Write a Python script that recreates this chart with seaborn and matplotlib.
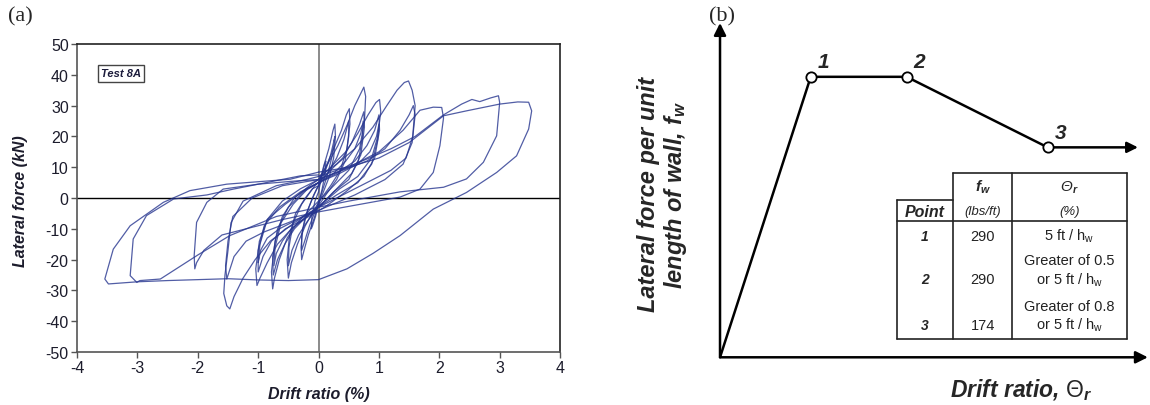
import numpy as np
import pandas as pd
import matplotlib.pyplot as plt
import seaborn as sb

# (a) hysteresis loops of Test 8A, one drift/force pair per cycle
c01_drift = [0.0, 0.05, 0.1, 0.12, 0.11, 0.06, 0.0, -0.05, -0.1, -0.12, -0.11, -0.06, 0.0]
c01_force = [2, 7, 11, 12, 8, 3, -2, -6, -9, -10, -6, -1, 2]
c02_drift = [0.0, 0.08, 0.17, 0.24, 0.27, 0.28, 0.25, 0.18, 0.08, 0.0, -0.08, -0.17, -0.24, -0.28, -0.29, -0.26, -0.18, -0.08, 0.0]
c02_force = [4, 10, 16, 22, 24, 20, 13, 7, 2, -2, -7, -12, -17, -20, -16, -10, -4, 1, 4]
c03_drift = [0.0, 0.1, 0.2, 0.26, 0.27, 0.23, 0.14, 0.04, -0.05, -0.15, -0.23, -0.28, -0.28, -0.22, -0.12, -0.03, 0.0]
c03_force = [4, 8, 14, 19, 20, 14, 7, 1, -4, -9, -14, -17, -12, -6, -1, 3, 4]
c04_drift = [0.0, 0.12, 0.25, 0.38, 0.46, 0.51, 0.52, 0.47, 0.36, 0.2, 0.05, -0.08, -0.22, -0.35, -0.45, -0.5, -0.52, -0.48, -0.38, -0.22, -0.06, 0.0]
c04_force = [5, 10, 16, 22, 27, 29, 24, 16, 9, 4, 0, -4, -9, -15, -21, -26, -20, -12, -5, 0, 4, 5]
c05_drift = [0.0, 0.15, 0.3, 0.42, 0.5, 0.5, 0.44, 0.3, 0.12, -0.05, -0.2, -0.33, -0.44, -0.5, -0.49, -0.42, -0.28, -0.1, 0.0]
c05_force = [4, 8, 13, 19, 25, 20, 12, 6, 1, -4, -8, -12, -17, -22, -16, -8, -2, 3, 4]
c06_drift = [0.0, 0.15, 0.32, 0.48, 0.6, 0.7, 0.75, 0.78, 0.76, 0.68, 0.5, 0.25, 0.05, -0.15, -0.35, -0.52, -0.65, -0.73, -0.76, -0.78, -0.72, -0.6, -0.4, -0.15, 0.0]
c06_force = [6, 11, 17, 24, 30, 34, 36, 33, 25, 16, 9, 4, 0, -4, -8, -13, -20, -26, -29.5, -24, -14, -6, 0, 4, 6]
c07_drift = [0.0, 0.2, 0.4, 0.55, 0.68, 0.75, 0.76, 0.7, 0.55, 0.3, 0.05, -0.2, -0.4, -0.56, -0.68, -0.75, -0.76, -0.68, -0.5, -0.25, 0.0]
c07_force = [5, 9, 13, 18, 24, 28, 23, 14, 8, 3, -2, -6, -10, -15, -20, -25, -19, -10, -3, 2, 5]
c08_drift = [0.0, 0.2, 0.45, 0.65, 0.82, 0.95, 1.01, 1.03, 0.98, 0.88, 0.65, 0.35, 0.05, -0.2, -0.45, -0.68, -0.85, -0.97, -1.02, -1.04, -0.98, -0.85, -0.6, -0.3, 0.0]
c08_force = [6, 10, 15, 21, 27, 31, 32, 28, 20, 13, 7, 3, -2, -6, -10, -15, -21, -26, -28.4, -23, -14, -7, -1, 3, 6]
c09_drift = [0.0, 0.3, 0.6, 0.8, 0.93, 1.0, 1.01, 0.93, 0.75, 0.45, 0.1, -0.25, -0.55, -0.78, -0.92, -1.0, -1.0, -0.9, -0.65, -0.3, 0.0]
c09_force = [5, 8, 12, 17, 22, 27, 22, 13, 7, 2, -3, -7, -10, -14, -19, -24, -17, -9, -3, 2, 5]
c10_drift = [0.0, 0.3, 0.6, 0.9, 1.13, 1.3, 1.42, 1.49, 1.55, 1.6, 1.56, 1.45, 1.2, 0.8, 0.4, 0.0, -0.4, -0.8, -1.05, -1.25, -1.4, -1.47, -1.52, -1.57, -1.55, -1.5, -1.45, -1.25, -0.7, -0.2, 0.0]
c10_force = [7, 11, 16, 23, 30, 35, 37.5, 38, 35, 30, 20, 13, 9, 5, 1, -3, -8, -14, -20, -26, -32, -36, -35, -31, -25, -17, -8, -1, 4, 6, 7]
c11_drift = [0.0, 0.4, 0.8, 1.1, 1.35, 1.5, 1.57, 1.6, 1.55, 1.4, 1.1, 0.6, 0.0, -0.5, -0.9, -1.2, -1.4, -1.52, -1.54, -1.5, -1.42, -1.1, -0.6, 0.0]
c11_force = [6, 9, 12, 16, 22, 27, 30, 27, 18, 11, 6, 1, -4, -8, -11, -14, -19, -26.3, -22, -14, -6, 0, 4, 6]
c12_drift = [0.0, 0.5, 1.0, 1.4, 1.68, 1.9, 2.04, 2.07, 2.01, 1.9, 1.68, 1.35, 0.7, 0.0, -0.6, -1.2, -1.6, -1.9, -2.02, -2.05, -2.06, -2.02, -1.85, -1.58, -1.0, -0.4, 0.0]
c12_force = [6, 10, 15, 22, 28.5, 29.5, 29.4, 26, 17, 8.3, 2.9, 0.3, -2, -4.5, -7, -10, -12, -17, -21, -23, -18.7, -7.9, -1.4, 2.9, 4.5, 5.5, 6]
c13_drift = [0.0, 0.6, 1.2, 1.6, 2.07, 2.37, 2.54, 2.67, 2.85, 2.98, 3.0, 2.95, 2.73, 2.45, 2.07, 1.35, 0.5, 0.0, -0.7, -1.47, -2.0, -2.62, -2.96, -3.01, -3.12, -3.07, -2.85, -2.4, -1.85, -1.41, -0.3, 0.0]
c13_force = [7, 11, 16, 20, 27, 30.5, 32, 31.3, 32.5, 33.2, 31, 20.2, 11.6, 6.2, 3.5, 2, -1, -3, -6, -12.2, -18.5, -26.3, -26.8, -27.4, -25.2, -13.3, -5.7, -0.3, 1.0, 2.9, 7.2, 7.5]
c14_drift = [0.0, 0.5, 1.0, 1.5, 2.07, 2.45, 3.0, 3.3, 3.48, 3.53, 3.48, 3.28, 2.95, 2.45, 1.9, 1.35, 0.9, 0.47, 0.0, -0.5, -1.0, -1.5, -2.0, -2.5, -3.0, -3.48, -3.54, -3.4, -3.12, -2.57, -2.13, -1.52, -0.47, 0.0]
c14_force = [8.4, 10, 13, 18, 26.7, 28.3, 30.5, 31.2, 31.1, 28.3, 22.4, 13.7, 8.3, 1.8, -3.6, -12.2, -18, -23, -26.5, -26.8, -26.6, -26.2, -26.5, -26.8, -27.2, -27.9, -26.3, -16.6, -9, -1.4, 2.4, 4.5, 6.1, 8.4]
c15_drift = [0.0, 0.25, 0.45, 0.6, 0.7, 0.74, 0.73, 0.66, 0.5, 0.25, 0.0, -0.25, -0.45, -0.6, -0.7, -0.74, -0.72, -0.62, -0.42, -0.18, 0.0]
c15_force = [5, 8, 12, 16, 21, 25, 20, 12, 6, 2, -3, -7, -10, -14, -18, -22, -16, -8, -2, 3, 5]
c16_drift = [0.0, 0.35, 0.65, 0.85, 0.96, 1.0, 0.98, 0.88, 0.65, 0.3, 0.0, -0.35, -0.65, -0.85, -0.96, -1.0, -0.97, -0.85, -0.55, -0.2, 0.0]
c16_force = [5, 8, 11, 15, 20, 24, 19, 11, 5, 1, -3, -7, -10, -13, -17, -21, -15, -7, -2, 3, 5]

loops = [(c01_drift, c01_force), (c02_drift, c02_force), (c03_drift, c03_force),
         (c04_drift, c04_force), (c05_drift, c05_force), (c06_drift, c06_force),
         (c07_drift, c07_force), (c15_drift, c15_force), (c08_drift, c08_force),
         (c09_drift, c09_force), (c16_drift, c16_force), (c10_drift, c10_force),
         (c11_drift, c11_force), (c12_drift, c12_force), (c13_drift, c13_force),
         (c14_drift, c14_force)]

# (b) backbone curve (schematic, not to scale)
bb_drift = [0.0, 0.211, 0.434, 0.762]
bb_force = [0.0, 0.839, 0.839, 0.628]
bb_tail_end = 0.972
bb_labels = ['1', '2', '3']

# table in (b)
tab_points = ['1', '2', '3']
tab_fw = ['290', '290', '174']
tab_theta = [['5 ft / h$_\\mathrm{w}$'],
             ['Greater of 0.5', 'or 5 ft / h$_\\mathrm{w}$'],
             ['Greater of 0.8', 'or 5 ft / h$_\\mathrm{w}$']]

df = pd.concat([pd.DataFrame({'drift': d, 'force': f, 'cycle': i})
                for i, (d, f) in enumerate(loops)], ignore_index=True)

sb.set_style('white')
plt.rcParams['font.family'] = ['Liberation Sans', 'DejaVu Sans']
plt.rcParams['axes.unicode_minus'] = False
plt.rcParams['mathtext.fontset'] = 'custom'
plt.rcParams['mathtext.rm'] = 'Liberation Sans'
plt.rcParams['mathtext.it'] = 'Liberation Sans:italic:bold'
plt.rcParams['mathtext.bf'] = 'Liberation Sans:bold'

fig = plt.figure(figsize=(11.5, 4.06), dpi=100)

# ---- panel (a)
ax = fig.add_axes([0.067, 0.1305, 0.42, 0.7586])
ax.axhline(0, color='black', lw=1.0, zorder=1)
ax.axvline(0, color='#777777', lw=1.2, zorder=1)
sb.lineplot(data=df, x='drift', y='force', units='cycle', estimator=None, sort=False,
            color='#26358f', lw=0.9, alpha=0.8, ax=ax, legend=False)
ax.set_xlim(-4, 4)
ax.set_ylim(-50, 50)
ax.set_xticks(range(-4, 5))
ax.set_yticks(range(-50, 51, 10))
ax.tick_params(bottom=True, left=True, direction='out', length=4, width=1,
               color='#555555', labelcolor='#1c1c2c', labelsize=11.5, pad=2)
for s in ['left', 'bottom']:
    ax.spines[s].set_color('#555555')
for s in ['top', 'right']:
    ax.spines[s].set_color('#222222')
for s in ax.spines.values():
    s.set_linewidth(1.2)
ax.set_xlabel('Drift ratio (%)', fontsize=11.5, fontweight='bold', fontstyle='italic', color='#1c1c2c')
ax.set_ylabel('Lateral force (kN)', fontsize=11.5, fontweight='bold', fontstyle='italic', color='#1c1c2c')
ax.xaxis.label.set_va('center')
ax.yaxis.label.set_va('center')
ax.xaxis.set_label_coords(0.5, -0.136)
ax.yaxis.set_label_coords(-0.118, 0.492)
ax.text(-3.27, 40.5, 'Test 8A', ha='center', va='center', fontsize=8, fontweight='bold',
        fontstyle='italic', color='#1c1c3c',
        bbox=dict(boxstyle='square,pad=0.3', fc='white', ec='#444444', lw=1))

fig.text(0.018, 0.958, '(a)', family='Liberation Serif', fontsize=16, ha='center', va='center')
fig.text(0.628, 0.958, '(b)', family='Liberation Serif', fontsize=16, ha='center', va='center')

# ---- panel (b)
axb = fig.add_axes([0.6261, 0.1175, 0.3739, 0.8234])
axb.set_xlim(0, 1)
axb.set_ylim(0, 1)
axb.axis('off')
arrow = dict(arrowstyle='-|>', lw=1.8, color='black', mutation_scale=18, shrinkA=0, shrinkB=0)
axb.annotate('', xy=(0, 1.0), xytext=(0, 0), xycoords='axes fraction', arrowprops=arrow,
             annotation_clip=False)
axb.annotate('', xy=(0.995, 0), xytext=(0, 0), xycoords='axes fraction', arrowprops=arrow,
             annotation_clip=False)
sb.lineplot(x=bb_drift, y=bb_force, sort=False, estimator=None, color='black', lw=1.8, ax=axb)
axb.annotate('', xy=(bb_tail_end, bb_force[-1]), xytext=(bb_drift[-1], bb_force[-1]),
             arrowprops=dict(arrowstyle='-|>', lw=1.8, color='black', mutation_scale=16,
                             shrinkA=0, shrinkB=0))
sb.scatterplot(x=bb_drift[1:], y=bb_force[1:], s=55, color='white', edgecolor='black',
               linewidth=1.3, zorder=5, ax=axb)
for lab, x, y in zip(bb_labels, bb_drift[1:], bb_force[1:]):
    axb.text(x + 0.03, y + 0.045, lab, fontsize=15, fontweight='bold', fontstyle='italic',
             ha='center', va='center')

fig.text(0.5765, 0.52, 'Lateral force per unit\nlength of wall, f$_{w}$', rotation=90,
         fontsize=17, fontweight='bold', fontstyle='italic', ha='center', va='center',
         multialignment='center', linespacing=1.1)
fig.text(0.888, 0.039, 'Drift ratio, $\\mathit{\\Theta}$$_{r}$', fontsize=16.5, fontweight='bold',
         fontstyle='italic', ha='center', va='center')

# table (pixel coordinates of the figure)
tb = fig.add_axes([0, 0, 1, 1])
tb.set_xlim(0, 1150)
tb.set_ylim(406, 0)
tb.axis('off')
cx = [896.7, 953.3, 1012.3, 1126.7]
tc = dict(color='#222222', lw=1.2)
tb.plot([cx[1], cx[3]], [174, 174], **tc)
tb.plot([cx[0], cx[1]], [201, 201], **tc)
tb.plot([cx[0], cx[3]], [222.3, 222.3], **tc)
tb.plot([cx[0], cx[3]], [340, 340], **tc)
tb.plot([cx[0], cx[0]], [201, 340], **tc)
for x in cx[1:]:
    tb.plot([x, x], [174, 340], **tc)
mid = [(cx[0] + cx[1]) / 2, (cx[1] + cx[2]) / 2, (cx[2] + cx[3]) / 2]
tb.text(mid[1], 187.7, 'f$_{w}$', fontsize=11, fontweight='bold', fontstyle='italic', ha='center', va='center')
tb.text(mid[2], 187.7, 'Θ$_{r}$', fontsize=11, fontstyle='italic', ha='center', va='center')
tb.text(mid[0], 212.3, 'Point', fontsize=11.5, fontweight='bold', fontstyle='italic', ha='center', va='center')
tb.text(mid[1], 212.3, '(lbs/ft)', fontsize=9.5, fontstyle='italic', ha='center', va='center')
tb.text(mid[2], 212.3, '(%)', fontsize=9.5, fontstyle='italic', ha='center', va='center')
row_y = [[236.7], [260.7, 280.0], [306.7, 325.7]]
for p, fw, th, ys in zip(tab_points, tab_fw, tab_theta, row_y):
    tb.text(mid[0], ys[-1], p, fontsize=10, fontweight='bold', fontstyle='italic', ha='center', va='center')
    tb.text(mid[1], ys[-1], fw, fontsize=10.5, ha='center', va='center', color='#222222')
    for t, y in zip(th, ys):
        tb.text(mid[2], y, t, fontsize=10.5, ha='center', va='center', color='#222222')

plt.savefig('out.png', dpi=100)
